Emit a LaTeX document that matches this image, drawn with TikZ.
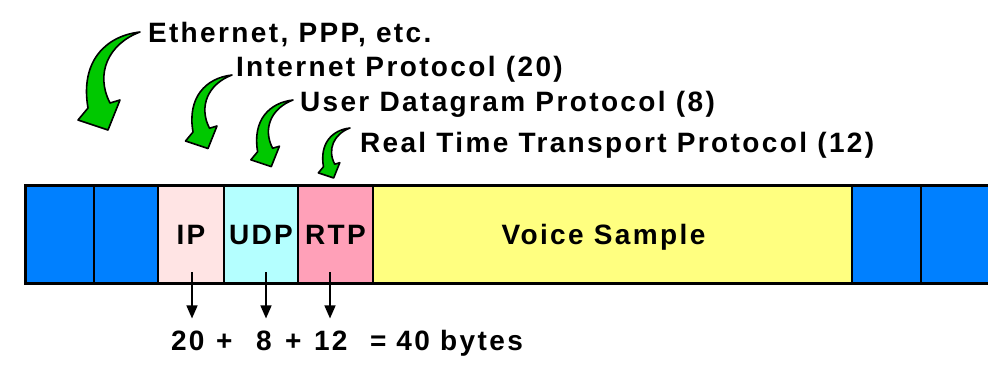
\documentclass[tikz,border=0pt]{standalone}
\usepackage{fontspec}
\setmainfont{Liberation Sans}[LetterSpace=8.5]
\usepackage{tikz}
\usetikzlibrary{positioning,arrows.meta}
\definecolor{frameblue}{RGB}{0,128,255}
\definecolor{ippink}{RGB}{255,228,228}
\definecolor{udpcyan}{RGB}{180,255,255}
\definecolor{rtprose}{RGB}{255,160,184}
\definecolor{voiceyellow}{RGB}{255,255,128}
\definecolor{bendgreen}{RGB}{0,200,0}

\begin{document}
\begin{tikzpicture}[x=1pt,y=-1pt,
	every node/.style={font=\fontsize{28}{30}\selectfont\bfseries, inner sep=0pt, outer sep=0pt},
	cell/.style={draw, line width=2pt, minimum height=98pt, text height=20pt, text depth=0pt},
	headline/.style={anchor=base west},
	drop/.style={-{Triangle[width=11pt,length=13pt]}, line width=1.5pt},
	bend arrow/.pic={\draw[fill=bendgreen, line width=1.6pt, line join=round] (0,0) .. controls (-35,4) and (-60,30) .. (-52,76) -- (-62,88) -- (-32,98) -- (-20,68) -- (-30,71) .. controls (-45,42) and (-32,12) .. (0,0) -- cycle;}]
	
	\useasboundingbox (0,0) rectangle (988,385);
	\clip (0,0) rectangle (988,385);
	
	% the packet
	\node[cell, fill=frameblue, minimum width=69pt, anchor=west] (eth1) at (25,234) {};
	\node[cell, fill=frameblue, minimum width=64pt, right=0pt of eth1] (eth2) {};
	\node[cell, fill=ippink, minimum width=66pt, right=0pt of eth2] (ip) {IP};
	\node[cell, fill=udpcyan, minimum width=74pt, right=0pt of ip] (udp) {UDP};
	\node[cell, fill=rtprose, minimum width=75pt, right=0pt of udp] (rtp) {RTP};
	\node[cell, fill=voiceyellow, minimum width=479pt, right=0pt of rtp] (voice) {Voice Sample\hspace*{18pt}};
	\node[cell, fill=frameblue, minimum width=69pt, right=0pt of voice] (eth3) {};
	\node[cell, fill=frameblue, minimum width=80pt, right=0pt of eth3] (eth4) {};
	\draw[line width=3pt] (eth1.north west) rectangle (eth4.south east);
	
	% headers
	\node[headline] (eth) at (148,43) {Ethernet, PPP, etc.};
	\node[headline] (inet) at (236,77) {Internet Protocol (20)};
	\node[headline] (udpname) at (300,112) {User Datagram Protocol (8)};
	\node[headline] (rtpname) at (360,153) {Real Time Transport Protocol (12)};
	
	\pic at (140,32) {bend arrow};
	\pic[scale=.75] at (232,75) {bend arrow};
	\pic[scale=.68] at (293,100) {bend arrow};
	\pic[scale=.51] at (350,128) {bend arrow};
	
	% sizes
	\node[headline] (n20) at (171,350) {20};
	\node[headline] (plus1) at (216,350) {+};
	\node[headline] (n8) at (256,350) {8};
	\node[headline] (plus2) at (285,350) {+};
	\node[headline] (n12) at (314,350) {12};
	\node[headline] (total) at (370,350) {= 40 bytes};
	
	\coordinate (s20) at (192,272);
	\coordinate (s8) at (266,272);
	\coordinate (s12) at (330,272);
	\draw[drop, shorten >=12pt] (s20) -- (s20 |- n20.north);
	\draw[drop, shorten >=12pt] (s8) -- (s8 |- n8.north);
	\draw[drop, shorten >=12pt] (s12) -- (s12 |- n12.north);
\end{tikzpicture}
\end{document}
